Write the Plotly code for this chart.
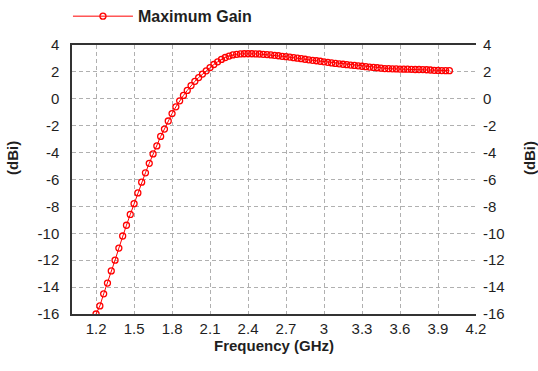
import plotly.graph_objects as go

# Frequency sweep (GHz) and the corresponding maximum gain (dBi)
freq_ghz = [
    1.20, 1.23, 1.26, 1.29, 1.32, 1.35, 1.38, 1.41, 1.44, 1.47,
    1.50, 1.53, 1.56, 1.59, 1.62, 1.65, 1.68, 1.71, 1.74, 1.77,
    1.80, 1.83, 1.86, 1.89, 1.92, 1.95, 1.98, 2.01, 2.04, 2.07,
    2.10, 2.13, 2.16, 2.19, 2.22, 2.25, 2.28, 2.31, 2.34, 2.37,
    2.40, 2.43, 2.46, 2.49, 2.52, 2.55, 2.58, 2.61, 2.64, 2.67,
    2.70, 2.73, 2.76, 2.79, 2.82, 2.85, 2.88, 2.91, 2.94, 2.97,
    3.00, 3.03, 3.06, 3.09, 3.12, 3.15, 3.18, 3.21, 3.24, 3.27,
    3.30, 3.33, 3.36, 3.39, 3.42, 3.45, 3.48, 3.51, 3.54, 3.57,
    3.60, 3.63, 3.66, 3.69, 3.72, 3.75, 3.78, 3.81, 3.84, 3.87,
    3.90, 3.93, 3.96, 3.99,
]
max_gain_dbi = [
    -16.0, -15.4, -14.5, -13.7, -12.8, -12.0, -11.1, -10.2, -9.4, -8.6,
    -7.8, -7.0, -6.2, -5.5, -4.8, -4.1, -3.5, -2.8, -2.25, -1.65,
    -1.1, -0.6, -0.15, 0.25, 0.62, 0.98, 1.3, 1.58, 1.84, 2.08,
    2.32, 2.55, 2.75, 2.93, 3.07, 3.18, 3.26, 3.31, 3.34, 3.35,
    3.35, 3.35, 3.34, 3.33, 3.31, 3.29, 3.26, 3.23, 3.2, 3.16,
    3.13, 3.1, 3.06, 3.02, 2.98, 2.94, 2.9, 2.86, 2.83, 2.79,
    2.75, 2.71, 2.67, 2.63, 2.6, 2.57, 2.54, 2.51, 2.48, 2.45,
    2.42, 2.39, 2.36, 2.33, 2.31, 2.28, 2.25, 2.24, 2.23, 2.22,
    2.21, 2.2, 2.2, 2.19, 2.18, 2.18, 2.17, 2.16, 2.14, 2.12,
    2.11, 2.1, 2.09, 2.09,
]

x_ticks = [1.2, 1.5, 1.8, 2.1, 2.4, 2.7, 3.0, 3.3, 3.6, 3.9, 4.2]
x_tick_text = ["1.2", "1.5", "1.8", "2.1", "2.4", "2.7", "3", "3.3", "3.6", "3.9", "4.2"]
y_ticks = [-16, -14, -12, -10, -8, -6, -4, -2, 0, 2, 4]
y_tick_text = ["-16", "-14", "-12", "-10", "-8", "-6", "-4", "-2", "0", "2", "4"]

FONT = "Liberation Sans, Arial, sans-serif"
TEXT = "#1f1f1f"
RED = "#ff0000"
GRID = "#b0b0b0"
FRAME = "#333333"

fig = go.Figure()
fig.add_trace(go.Scatter(
    x=freq_ghz, y=max_gain_dbi, name="Maximum Gain",
    mode="lines+markers",
    line=dict(color=RED, width=1),
    marker=dict(symbol="circle-open", size=6, color=RED, line=dict(width=1.3, color=RED)),
))
# same series on the right-hand axis so the mirrored scale is drawn
fig.add_trace(go.Scatter(
    x=freq_ghz, y=max_gain_dbi, yaxis="y2", showlegend=False,
    mode="lines", line=dict(color="rgba(0,0,0,0)", width=0), hoverinfo="skip",
))

fig.update_layout(
    width=538, height=371,
    margin=dict(l=72, r=62, t=45, b=57, autoexpand=False),
    paper_bgcolor="white", plot_bgcolor="white",
    font=dict(family=FONT, size=15, color=TEXT),
    showlegend=True,
    legend=dict(
        x=-0.01, y=1.17, xanchor="left", yanchor="top",
        orientation="h", bgcolor="rgba(0,0,0,0)",
        font=dict(family=FONT, size=16, color=TEXT, weight="bold"),
        itemwidth=60,
    ),
    xaxis=dict(
        range=[1.01, 4.2], tickvals=x_ticks, ticktext=x_tick_text,
        showgrid=True, gridcolor=GRID, griddash="4px,3px", gridwidth=1,
        showline=True, linecolor=FRAME, linewidth=1.5, mirror=True,
        ticks="", zeroline=False,
        tickfont=dict(family=FONT, size=15, color=TEXT),
        title=dict(text="Frequency (GHz)", standoff=4,
                   font=dict(family=FONT, size=15, color=TEXT, weight="bold")),
    ),
    yaxis=dict(
        range=[-16, 4], tickvals=y_ticks, ticktext=y_tick_text,
        showgrid=True, gridcolor=GRID, griddash="4px,3px", gridwidth=1,
        showline=True, linecolor=FRAME, linewidth=1.5,
        ticks="", zeroline=False, ticklabelstandoff=8,
        tickfont=dict(family=FONT, size=15, color=TEXT),
    ),
    yaxis2=dict(
        range=[-16, 4], tickvals=y_ticks, ticktext=y_tick_text,
        overlaying="y", side="right",
        showgrid=False, showline=False, ticks="", zeroline=False,
        ticklabelstandoff=6,
        tickfont=dict(family=FONT, size=15, color=TEXT),
    ),
    annotations=[
        dict(text="(dBi)", textangle=-90, xref="paper", yref="paper",
             x=-0.146, y=0.58, xanchor="center", yanchor="middle", showarrow=False,
             font=dict(family=FONT, size=15, color=TEXT, weight="bold")),
        dict(text="(dBi)", textangle=-90, xref="paper", yref="paper",
             x=1.134, y=0.58, xanchor="center", yanchor="middle", showarrow=False,
             font=dict(family=FONT, size=15, color=TEXT, weight="bold")),
    ],
)

fig.write_html("out.html")
